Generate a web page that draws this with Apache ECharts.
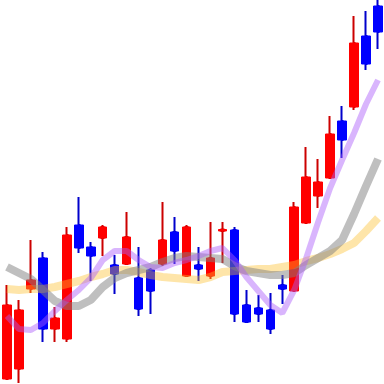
<!DOCTYPE html>
<html>
<head>
<meta charset="utf-8">
<script src="https://cdn.jsdelivr.net/npm/echarts@6/dist/echarts.min.js"></script>
<style>html,body{margin:0;padding:0;background:#fff;}#c{width:384px;height:384px;}</style>
</head>
<body>
<div id="c"></div>
<script>
// Values (arbitrary price units)
const days = Array.from({length: 32}, (_, i) => 'D' + (i + 1));
const openV  = [5,15,95,126,55,45,159,137,146,119,120,106,114,120,152,108,119,108,153,154,79,76,74,99,93,161,188,206,263,277,348,378];
const closeV = [79,74,104,55,66,149,136,128,157,110,147,75,93,144,133,157,115,126,154.5,70,62,70,55,95,177,207,202,250,244,341,320,352];
const lowV   = [5,1,91,42,42,42,131,103,128,90,120,68,70,118,120,108,103,105,121,62,62,62,50,80,93,161,176,206,226,274,314,335];
const highV  = [99,84,144,132,77,157,187,142,159,129,172,137,116,182,167,159,137,162,162,157,94,89,91,109,182,237,225,268,278,368,373,384];
const maShort = [68,55,54,61,73,84,94,106,124,133,133,124,117,116,121,124,128,133,136,124,107,93,79,71,94,126,162,196,224,251,280,304];
const maMid   = [117,111,105,94,83,78,78,84,97,106,111,114,117,122,126,128,127,126,125,118,113,111,109,109,111,119,126,133,144,170,198,225];
const maLong  = [95,94,95,95,97,100,103,107,110,114,114,112,109,107,106,105,104,107,112,113,114,115,115,117,119,123,126,130,135,141,153,166];

const full = openV.map((o, i) => [o, closeV[i], lowV[i], highV[i]]);
const bodies = openV.map((o, i) => [o, closeV[i], Math.min(o, closeV[i]), Math.max(o, closeV[i])]);

const chart = echarts.init(document.getElementById('c'), null, {renderer: 'canvas'});
chart.setOption({
  animation: false,
  backgroundColor: '#ffffff',
  grid: {left: 1, right: 0, top: 0, bottom: 0},
  xAxis: {type: 'category', data: days, show: false, boundaryGap: true},
  yAxis: {type: 'value', min: 0, max: 384, show: false, splitLine: {show: false}},
  series: [
    {
      type: 'candlestick', data: full, barWidth: 2,
      itemStyle: {color: '#cc0000', color0: '#0000cc', borderColor: '#cc0000', borderColor0: '#0000cc', borderWidth: 2}
    },
    {
      type: 'candlestick', data: bodies, barWidth: 9,
      itemStyle: {color: '#ff0000', color0: '#0000ff', borderColor: '#ff0000', borderColor0: '#0000ff', borderWidth: 1}
    },
    {
      type: 'line', data: maLong, symbol: 'none', smooth: false,
      lineStyle: {width: 8, color: 'rgba(252,190,40,0.4)'}
    },
    {
      type: 'line', data: maMid, symbol: 'none', smooth: false,
      lineStyle: {width: 8, color: 'rgba(128,128,128,0.5)'}
    },
    {
      type: 'line', data: maShort, symbol: 'none', smooth: false,
      lineStyle: {width: 6, color: 'rgba(170,90,250,0.45)'}
    }
  ]
});
</script>
</body>
</html>
